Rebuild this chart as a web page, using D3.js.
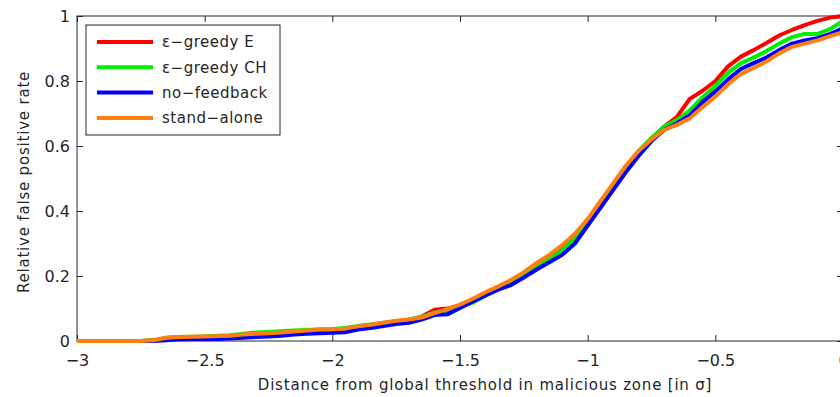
<html>
<meta charset="utf-8" />
<head>
<style>
body { margin: 0; background: #fff; }
svg { display: block; }
svg text {
  font-family: "DejaVu Sans", Verdana, sans-serif;
  fill: #262626;
}
.axis path, .axis line { stroke: #262626; }
</style>
<script src="https://d3js.org/d3.v7.min.js"></script>
</head>
<body>
<svg class="chart"></svg>
<script>
var width = 840, height = 397;

/********
 * Data *
 ********/
var sigma = [-3.00,-2.95,-2.90,-2.85,-2.80,-2.75,-2.70,-2.65,-2.60,-2.55,
             -2.50,-2.45,-2.40,-2.35,-2.30,-2.25,-2.20,-2.15,-2.10,-2.05,
             -2.00,-1.95,-1.90,-1.85,-1.80,-1.75,-1.70,-1.65,-1.60,-1.55,
             -1.50,-1.45,-1.40,-1.35,-1.30,-1.25,-1.20,-1.15,-1.10,-1.05,
             -1.00,-0.95,-0.90,-0.85,-0.80,-0.75,-0.70,-0.65,-0.60,-0.55,
             -0.50,-0.45,-0.40,-0.35,-0.30,-0.25,-0.20,-0.15,-0.10,-0.05,0.00];

var greedyE = [0,0,0,0,0,0,0.002,0.009,0.011,0.012,
               0.013,0.014,0.015,0.018,0.020,0.023,0.025,0.028,0.031,0.034,
               0.035,0.037,0.044,0.049,0.055,0.060,0.065,0.075,0.096,0.100,
               0.108,0.125,0.145,0.165,0.180,0.205,0.230,0.255,0.280,0.318,
               0.368,0.425,0.478,0.532,0.582,0.622,0.660,0.690,0.745,0.770,
               0.800,0.845,0.875,0.895,0.917,0.940,0.957,0.972,0.985,0.995,1.000];

var greedyCH = [0,0,0,0,0,0,0.002,0.010,0.012,0.013,
                0.014,0.016,0.018,0.022,0.026,0.028,0.030,0.032,0.034,0.036,
                0.037,0.040,0.046,0.051,0.056,0.061,0.066,0.074,0.088,0.094,
                0.105,0.118,0.140,0.162,0.178,0.200,0.228,0.252,0.277,0.315,
                0.370,0.430,0.480,0.535,0.585,0.625,0.660,0.680,0.710,0.750,
                0.785,0.825,0.855,0.872,0.892,0.915,0.935,0.945,0.945,0.960,0.985];

var noFeedback = [0,0,0,0,0,0,0,0.002,0.005,0.006,
                  0.006,0.006,0.008,0.010,0.012,0.014,0.016,0.020,0.022,0.024,
                  0.025,0.027,0.035,0.040,0.046,0.052,0.056,0.066,0.080,0.082,
                  0.102,0.122,0.140,0.158,0.172,0.195,0.220,0.242,0.265,0.300,
                  0.355,0.410,0.465,0.520,0.570,0.615,0.650,0.670,0.695,0.735,
                  0.768,0.805,0.837,0.855,0.872,0.895,0.915,0.925,0.932,0.945,0.962];

var standAlone = [0,0,0,0,0,0,0.002,0.010,0.012,0.013,
                  0.014,0.015,0.016,0.020,0.022,0.024,0.026,0.029,0.032,0.035,
                  0.036,0.038,0.045,0.050,0.056,0.062,0.066,0.072,0.086,0.098,
                  0.112,0.130,0.150,0.168,0.188,0.212,0.240,0.265,0.295,0.330,
                  0.375,0.430,0.485,0.540,0.585,0.620,0.650,0.665,0.685,0.720,
                  0.752,0.790,0.822,0.840,0.860,0.885,0.905,0.915,0.925,0.938,0.950];

var seriesNames = ["\u03b5\u2212greedy E", "\u03b5\u2212greedy CH", "no\u2212feedback", "stand\u2212alone"];
var seriesColors = ["#ff0000", "#00ee00", "#0000ff", "#ff7f0e"];
var seriesValues = [greedyE, greedyCH, noFeedback, standAlone];

var xTicks = [-3, -2.5, -2, -1.5, -1, -0.5, 0];
var yTicks = [0, 0.2, 0.4, 0.6, 0.8, 1];

/**********
 * Scales *
 **********/
var x = d3.scaleLinear().domain([-3, 0]).range([77, 843]);
var y = d3.scaleLinear().domain([0, 1]).range([341, 16]);

function fmt(d) { return String(d).replace("-", "\u2212"); }

var svg = d3.select(".chart")
    .attr("width", width)
    .attr("height", height);

// box
svg.append("rect")
    .attr("x", x(-3)).attr("y", y(1))
    .attr("width", x(0) - x(-3)).attr("height", y(0) - y(1))
    .attr("fill", "none")
    .attr("stroke", "#262626");

/********
 * Axes *
 ********/
var xAxis = svg.append("g").attr("class", "axis")
    .attr("transform", "translate(0," + y(0) + ")")
    .call(d3.axisBottom(x).tickValues(xTicks).tickSizeInner(-6).tickSizeOuter(0).tickPadding(14).tickFormat(fmt));
xAxis.selectAll("text").style("font-size", "16px");
xAxis.select(".domain").remove();

svg.append("g").attr("class", "axis")
    .attr("transform", "translate(0," + y(1) + ")")
    .call(d3.axisTop(x).tickValues(xTicks).tickSizeInner(-6).tickSizeOuter(0).tickFormat(""))
    .select(".domain").remove();

var yAxis = svg.append("g").attr("class", "axis")
    .attr("transform", "translate(" + x(-3) + ",0)")
    .call(d3.axisLeft(y).tickValues(yTicks).tickSizeInner(-6).tickSizeOuter(0).tickPadding(7).tickFormat(function(d){ return d3.format("")(d); }));
yAxis.selectAll("text").style("font-size", "16px");
yAxis.select(".domain").remove();

svg.append("g").attr("class", "axis")
    .attr("transform", "translate(" + x(0) + ",0)")
    .call(d3.axisRight(y).tickValues(yTicks).tickSizeInner(-6).tickSizeOuter(0).tickFormat(""))
    .select(".domain").remove();

svg.append("text")
    .attr("x", 485)
    .attr("y", 390)
    .style("font-size", "15px")
    .style("letter-spacing", "0.8px")
    .style("text-anchor", "middle")
    .text("Distance from global threshold in malicious zone [in \u03c3]");

svg.append("text")
    .attr("transform", "translate(29," + 182 + ") rotate(-90)")
    .style("font-size", "15px")
    .style("letter-spacing", "0.8px")
    .style("text-anchor", "middle")
    .text("Relative false positive rate");

/*********
 * Lines *
 *********/
var line = d3.line()
    .x(function(d, i){ return x(sigma[i]); })
    .y(function(d){ return y(d); });

svg.selectAll(".series")
    .data(seriesValues)
  .enter().append("path")
    .attr("class", "series")
    .attr("d", line)
    .attr("fill", "none")
    .attr("stroke", function(d, i){ return seriesColors[i]; })
    .attr("stroke-width", 4)
    .attr("stroke-linejoin", "round");

/**********
 * Legend *
 **********/
svg.append("rect")
    .attr("x", 86).attr("y", 25)
    .attr("width", 194).attr("height", 110)
    .attr("fill", "#fff")
    .attr("stroke", "#262626");

var legend = svg.selectAll(".legend")
    .data(seriesNames)
  .enter().append("g")
    .attr("class", "legend")
    .attr("transform", function(d, i){ return "translate(0," + (42 + i * 25.3) + ")"; });

legend.append("line")
    .attr("x1", 97).attr("x2", 153)
    .attr("stroke", function(d, i){ return seriesColors[i]; })
    .attr("stroke-width", 4);

legend.append("text")
    .attr("x", 162)
    .attr("dy", "0.35em")
    .style("font-size", "15px")
    .style("letter-spacing", "0.5px")
    .text(function(d){ return d; });
</script>
</body>
</html>
